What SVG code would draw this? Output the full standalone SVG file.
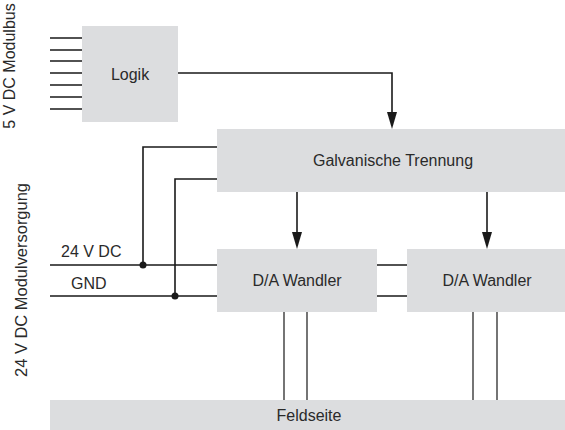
<svg xmlns="http://www.w3.org/2000/svg" width="565" height="430" viewBox="0 0 565 430">
<defs>
<style>
.box{fill:#dcdddf;}
.t{font-family:"Liberation Sans",Arial,sans-serif;font-size:16px;fill:#2a2a2a;}
.w{stroke:#1a1a1a;stroke-width:1.6;fill:none;}
.wt{stroke:#1a1a1a;stroke-width:1.2;fill:none;}
.ah{fill:#1a1a1a;}
</style>
</defs>
<rect width="565" height="430" fill="#ffffff"/>
<text class="t" transform="translate(15,66) rotate(-90)" text-anchor="middle">5 V DC Modulbus</text>
<text class="t" transform="translate(27,280) rotate(-90)" text-anchor="middle" textLength="194" lengthAdjust="spacingAndGlyphs">24 V DC Modulversorgung</text>
<g id="logik">
<rect class="box" x="82" y="26" width="96" height="96"/>
<text class="t" x="130" y="80" text-anchor="middle">Logik</text>
</g>
<g id="galvanische">
<rect class="box" x="217" y="129" width="348" height="63"/>
<text class="t" x="393" y="166" text-anchor="middle">Galvanische Trennung</text>
</g>
<g id="da1">
<rect class="box" x="217" y="249" width="160" height="63"/>
<text class="t" x="297" y="286" text-anchor="middle">D/A Wandler</text>
</g>
<g id="da2">
<rect class="box" x="407" y="249" width="158" height="63"/>
<text class="t" x="487" y="286" text-anchor="middle">D/A Wandler</text>
</g>
<g id="feldseite">
<rect class="box" x="50" y="400" width="515" height="30"/>
<text class="t" x="309" y="421" text-anchor="middle">Feldseite</text>
</g>
<g id="labels">
<text class="t" x="61" y="257">24 V DC</text>
<text class="t" x="71" y="289">GND</text>
</g>
<g id="connectors">
<path class="w" d="M50,38H82M50,50H82M50,61H82M50,73H82M50,85H82M50,97H82M50,109H82"/>
<path class="w" d="M178,73H392V114"/>
<polygon class="ah" points="387,112 397,112 392,129"/>
<path class="w" d="M297,192V234"/>
<polygon class="ah" points="292,232 302,232 297,249"/>
<path class="w" d="M487,192V234"/>
<polygon class="ah" points="482,232 492,232 487,249"/>
<path class="w" d="M217,147H143V265"/>
<path class="w" d="M217,179H175V296"/>
<path class="w" d="M50,265H217M50,296H217M377,265H407M377,296H407"/>
<path class="wt" d="M284,312V400M307,312V400M473,312V400M497,312V400"/>
<circle cx="143" cy="265" r="3.5" fill="#1a1a1a"/>
<circle cx="175" cy="296" r="3.5" fill="#1a1a1a"/>
</g>
</svg>
